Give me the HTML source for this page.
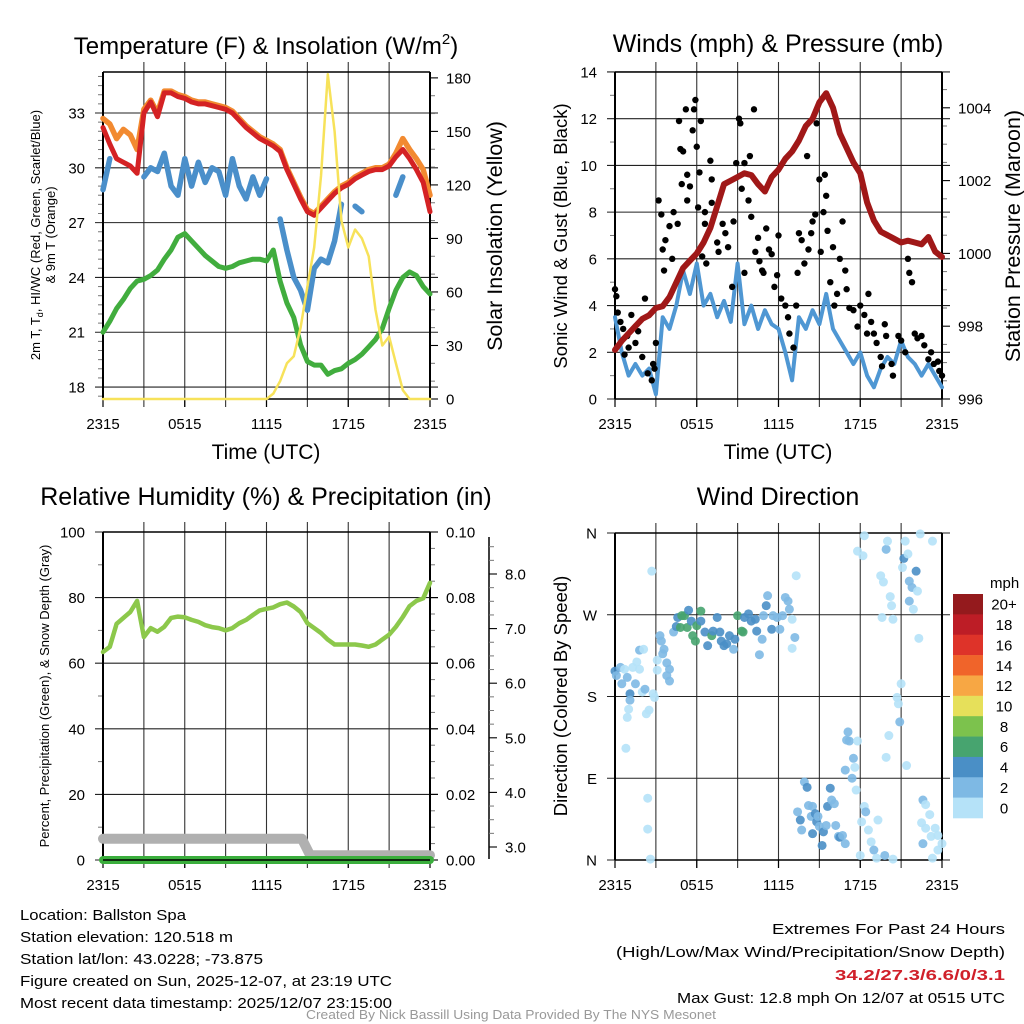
<!DOCTYPE html>
<html><head><meta charset="utf-8"><title>NYS Mesonet Meteogram - Ballston Spa</title>
<style>
html,body{margin:0;padding:0;background:#fff;}
svg{display:block;font-family:"Liberation Sans",Arial,sans-serif;}
</style></head>
<body>
<svg id="chart" width="1024" height="1024" viewBox="0 0 1024 1024" xmlns="http://www.w3.org/2000/svg">
<rect x="0" y="0" width="1024" height="1024" fill="#fff"/>
<!-- titles -->
<text x="266" y="54" font-size="24" text-anchor="middle">Temperature (F) &amp; Insolation (W/m<tspan font-size="15" dy="-10">2</tspan><tspan dy="10">)</tspan></text>
<text x="778" y="52" font-size="25" text-anchor="middle">Winds (mph) &amp; Pressure (mb)</text>
<text x="266" y="505" font-size="25" text-anchor="middle">Relative Humidity (%) &amp; Precipitation (in)</text>
<text x="778" y="505" font-size="25" text-anchor="middle">Wind Direction</text>
<!-- axis titles -->
<text transform="translate(40,235) rotate(-90)" font-size="13" text-anchor="middle">2m T, T<tspan font-size="9" dy="3">d</tspan><tspan dy="-3">, HI/WC (Red, Green, Scarlet/Blue)</tspan></text>
<text transform="translate(55,235) rotate(-90)" font-size="13" text-anchor="middle">&amp; 9m T (Orange)</text>
<text transform="translate(502,236) rotate(-90)" font-size="21.5" text-anchor="middle">Solar Insolation (Yellow)</text>
<text x="266" y="459" font-size="21" text-anchor="middle">Time (UTC)</text>
<text transform="translate(567,236) rotate(-90)" font-size="18.5" text-anchor="middle">Sonic Wind &amp; Gust (Blue, Black)</text>
<text transform="translate(1020,236) rotate(-90)" font-size="21.5" text-anchor="middle">Station Pressure (Maroon)</text>
<text x="778" y="459" font-size="21" text-anchor="middle">Time (UTC)</text>
<text transform="translate(49,696) rotate(-90)" font-size="13" text-anchor="middle">Percent, Precipitation (Green), &amp; Snow Depth (Gray)</text>
<text transform="translate(567,696) rotate(-90)" font-size="18.5" text-anchor="middle">Direction (Colored By Speed)</text>
<!-- footer -->
<g font-size="15">
<text x="20" y="920" textLength="166" lengthAdjust="spacingAndGlyphs">Location: Ballston Spa</text>
<text x="20" y="942" textLength="213" lengthAdjust="spacingAndGlyphs">Station elevation: 120.518 m</text>
<text x="20" y="964" textLength="243" lengthAdjust="spacingAndGlyphs">Station lat/lon: 43.0228; -73.875</text>
<text x="20" y="986" textLength="372" lengthAdjust="spacingAndGlyphs">Figure created on Sun, 2025-12-07, at 23:19 UTC</text>
<text x="20" y="1008" textLength="372" lengthAdjust="spacingAndGlyphs">Most recent data timestamp: 2025/12/07 23:15:00</text>
</g>
<g font-size="15" text-anchor="end">
<text x="1005" y="934" textLength="233" lengthAdjust="spacingAndGlyphs">Extremes For Past 24 Hours</text>
<text x="1005" y="957" textLength="389" lengthAdjust="spacingAndGlyphs">(High/Low/Max Wind/Precipitation/Snow Depth)</text>
<text x="1005" y="980" fill="#d0202a" font-weight="bold" textLength="170" lengthAdjust="spacingAndGlyphs">34.2/27.3/6.6/0/3.1</text>
<text x="1005" y="1003" textLength="328" lengthAdjust="spacingAndGlyphs">Max Gust: 12.8 mph On 12/07 at 0515 UTC</text>
</g>
<text x="511" y="1019" font-size="13" fill="#999" text-anchor="middle" textLength="410" lengthAdjust="spacingAndGlyphs">Created By Nick Bassill Using Data Provided By The NYS Mesonet</text>
</svg>
<script>
// ---------- data ----------
const hours = Array.from({length:49},(_, i)=>i*0.5);
const timeTickLabels = ["2315","0515","1115","1715","2315"];
const temp2m = [32.2,31.3,30.5,30.3,30.1,29.7,33.0,33.6,32.8,34.1,34.1,33.9,33.8,33.6,33.5,33.5,33.4,33.3,33.2,33.0,32.6,32.2,31.9,31.6,31.4,31.2,30.9,29.9,29.1,28.3,27.6,27.4,27.8,28.2,28.6,28.9,29.1,29.4,29.6,29.8,29.9,29.9,30.1,30.6,31.0,30.5,29.9,29.2,27.6];
const temp9m = [32.7,32.4,31.6,32.1,31.8,31.0,33.2,33.7,33.0,34.2,34.2,34.0,33.9,33.7,33.6,33.6,33.5,33.4,33.3,33.1,32.7,32.3,32.0,31.7,31.5,31.3,31.0,30.0,29.2,28.4,27.7,27.5,27.9,28.3,28.7,29.0,29.2,29.5,29.7,29.9,30.0,30.0,30.2,30.8,31.6,31.0,30.5,29.9,28.5];
const windChill = [28.8,30.5,null,null,null,null,29.5,30.0,29.8,30.8,29.0,28.5,30.5,29.0,30.3,29.2,30.0,29.8,28.5,30.5,29.0,28.3,29.5,28.5,29.4,null,27.2,25.5,24.0,23.3,22.2,24.5,25.0,24.8,26.0,28.0,null,27.9,27.6,null,null,null,null,28.5,29.5,null,null,null,null];
const dewpoint = [21.0,21.6,22.3,22.8,23.4,23.8,23.9,24.1,24.4,25.0,25.5,26.2,26.4,26.0,25.6,25.2,24.9,24.6,24.5,24.6,24.8,24.9,25.0,25.0,24.9,25.5,23.8,22.6,21.8,20.3,19.4,19.2,19.2,18.7,18.9,19.0,19.3,19.5,19.8,20.2,20.6,21.2,22.3,23.3,24.0,24.3,24.1,23.5,23.1];
const solar = [0,0,0,0,0,0,0,0,0,0,0,0,0,0,0,0,0,0,0,0,0,0,0,0,0,3,10,20,24,40,63,85,125,182,150,100,85,95,90,80,50,30,35,20,5,0,0,0,0];
const tempTicks = [18,21,24,27,30,33];
const solarTicks = [0,30,60,90,120,150,180];

const windSpeed = [3.5,2.0,1.0,1.5,1.0,1.3,0.2,3.5,3.0,4.0,5.5,4.5,5.8,4.0,4.5,3.5,4.2,3.3,5.8,3.2,4.0,3.0,3.8,3.2,3.0,2.0,0.8,3.5,3.0,3.8,3.2,4.5,3.0,2.5,2.0,1.5,2.0,1.0,0.5,1.3,1.8,1.5,2.5,1.8,1.5,1.0,1.5,1.0,0.5];
const pressure = [997.35,997.6,997.8,998.0,998.2,998.3,998.5,998.55,998.8,999.2,999.6,999.8,1000.0,1000.3,1000.7,1001.3,1001.9,1002.0,1002.1,1002.2,1002.15,1001.9,1001.7,1002.1,1002.3,1002.6,1002.8,1003.1,1003.5,1003.7,1004.15,1004.4,1004.0,1003.3,1002.9,1002.5,1002.2,1001.4,1000.9,1000.6,1000.5,1000.4,1000.3,1000.35,1000.3,1000.25,1000.45,1000.05,999.9];
const gustTimes = [0,0.1,0.2,0.4,0.6,0.9,0.7,1.0,1.2,1.5,1.7,2.0,2.2,2.4,2.7,2.8,2.9,3.0,3.2,3.4,3.5,3.7,3.6,4.0,4.3,4.2,4.6,4.7,4.8,4.9,5.0,5.2,5.3,5.3,5.5,5.7,5.8,5.9,6.0,6.2,6.1,6.3,6.4,6.6,6.7,7.0,7.1,7.1,6.6,7.5,7.6,7.9,8.1,8.3,8.6,8.7,8.9,9.1,9.2,9.3,9.5,9.5,9.8,9.9,10.0,10.2,10.3,10.5,10.6,10.8,10.9,11.1,11.3,11.5,11.7,11.9,12.0,12.2,12.5,12.7,12.8,13.1,13.3,13.4,13.5,13.7,13.9,14.1,14.2,14.4,14.5,14.7,14.8,15.0,15.1,15.3,15.4,15.5,15.6,15.8,16.0,16.1,16.3,16.5,16.7,16.9,17.0,17.2,17.5,17.8,18.0,18.3,18.5,18.6,18.8,19.0,19.2,19.5,19.6,19.8,19.9,20.3,20.4,20.8,21.0,21.3,21.5,21.6,21.8,22.0,22.2,22.5,22.7,23.0,23.2,23.4,23.7,23.8,24.0];
const gustValues = [4.7,4.4,3.7,3.3,3.0,2.7,1.9,2.2,3.6,2.4,2.9,1.8,4.3,1.1,0.8,1.5,1.3,2.4,8.5,7.9,6.4,6.8,5.5,7.4,8.0,6.0,7.5,11.9,10.7,9.2,10.6,12.4,9.6,8.5,9.1,11.5,12.4,12.8,10.8,9.7,8.2,11.9,6.1,7.5,5.8,10.2,9.4,8.4,8.0,6.7,6.3,7.5,7.1,6.5,4.8,7.6,10.1,12.0,11.8,9.0,10.1,5.4,8.5,10.4,7.8,12.4,6.3,6.9,5.9,5.5,5.4,7.3,6.4,6.2,4.8,5.3,7.0,4.3,4.0,3.5,2.8,2.2,4.0,5.4,7.1,6.8,5.8,10.4,6.4,7.1,7.6,7.9,11.8,9.4,6.3,8.0,9.6,8.7,7.2,5.0,6.5,4.0,4.5,6.0,7.6,5.5,4.7,3.9,3.8,3.1,4.0,3.6,2.8,4.5,3.3,2.8,2.4,1.8,1.4,3.2,2.7,1.5,1.0,2.7,2.5,2.0,6.0,5.4,5.0,2.8,2.6,2.7,2.3,1.7,2.0,1.5,1.6,1.2,1.0];
const windTicks = [0,2,4,6,8,10,12,14];
const pressureTicks = [996,998,1000,1002,1004];

const humidity = [63.4,65,72,73.8,75.6,79,68,70.7,69.6,71.1,73.8,74.2,74,73.2,72.6,71.6,71,70.7,70,70.7,72.2,73.2,74.7,76.1,76.6,77,78,78.5,77.3,75.6,72.2,70.7,69.2,67.2,65.7,65.7,65.7,65.7,65.4,65,65.7,67.2,68.7,71.1,74.1,77.4,79,79.8,84.5];
const snowTimes = [0,14.6,15.2,24];
const snowDepth = [3.15,3.15,2.85,2.85];
const precipTimes = [0,24];
const precip = [0,0];
const humidityTicks = [0,20,40,60,80,100];
const precipTicks = ["0.00","0.02","0.04","0.06","0.08","0.10"];
const snowTicks = ["3.0","4.0","5.0","6.0","7.0","8.0"];

const dirTimes = [0,0.1,0.4,0.5,0.7,0.9,1.1,1.1,1.0,0.9,0.8,1.3,1.5,1.6,1.8,1.8,2.1,2.0,2.2,2.3,2.5,2.7,2.8,2.9,2.4,2.4,2.6,3.1,3.1,3.3,3.4,3.6,3.5,3.8,4.0,3.8,4.0,4.3,4.5,4.6,4.9,5.1,5.4,5.3,4.8,5.6,5.7,5.9,6.0,6.3,6.3,6.6,6.8,7.1,7.2,7.5,7.7,7.8,8.0,8.2,8.4,8.7,8.8,9.0,9.3,9.4,9.5,9.8,10.0,10.3,10.4,10.6,10.8,10.9,11.1,11.2,11.5,11.6,11.9,12.1,12.3,12.5,12.7,12.8,13.0,13.2,13.3,13.0,
13.4,13.6,13.7,13.9,14.1,14.2,14.4,14.5,14.5,14.7,14.8,14.9,15.0,15.2,15.3,15.5,15.6,15.8,15.9,16.1,16.2,16.4,16.5,16.7,16.9,16.9,17.0,17.1,17.2,17.5,17.6,17.4,17.7,17.8,18.0,18.1,18.3,18.4,18.6,18.8,19.0,19.2,19.3,19.8,19.9,20.1,20.4,20.7,20.8,20.9,21.0,21.4,
17.8,18.2,18.3,19.5,19.7,19.9,20.0,20.2,20.3,19.6,20.4,21.1,21.2,21.3,21.5,21.6,21.8,21.6,21.9,22.1,22.2,22.3,22.4,23.3,
22.6,22.8,23.1,22.5,22.8,23.2,23.5,23.7,24.0,23.7,23.3,22.6];
const dirDegrees = [208,203,212,194,210,201,183,176,166,157,123,212,194,218,210,231,232,185,188,161,165,318,183,179,68,34,1,209,220,247,241,232,227,217,210,203,197,251,257,267,269,269,275,256,256,263,247,241,258,274,263,251,236,247,252,267,251,241,236,238,247,232,243,269,252,251,267,271,263,265,252,226,243,269,280,291,254,269,267,254,269,289,285,276,265,245,313,233,
53,44,33,86,80,60,48,29,59,51,42,48,37,16,31,38,59,79,66,62,38,26,25,27,18,99,132,141,131,112,102,90,77,131,5,42,59,53,33,20,11,2,44,5,113,137,1,179,172,152,194,104,
340,335,357,313,306,342,351,290,280,267,265,322,332,351,337,307,300,285,276,318,296,244,359,351,
66,61,50,41,35,26,35,27,18,11,2,18];
const dirSpeeds = [4,3,3,2,1,2,4,3,1,1,1,1,3,1,1,2,1,1,3,1,1,1,1,1,1,1,1,1,1,3,3,3,2,3,3,2,2,3,4,4,6,6,4,6,6,5,6,6,6,6,4,4,4,6,4,4,4,4,4,4,4,3,4,6,6,6,4,4,4,4,4,3,3,2,4,3,4,2,2,2,2,2,2,2,1,3,1,1,
3,4,2,3,4,3,3,4,3,4,4,3,3,4,4,3,4,4,3,3,3,2,4,2,2,2,3,3,3,2,1,2,1,1,1,1,1,2,1,1,2,1,1,3,1,1,1,1,1,3,1,1,
1,1,1,1,1,3,1,1,1,1,1,1,4,1,1,3,3,3,1,4,1,1,1,1,
3,1,1,1,1,1,1,1,1,1,1,2];
const dirTickLabels = ["N","E","S","W","N"];
const speedBinLabels = ["20+","18","16","14","12","10","8","6","4","2","0"];
const speedBinColors = ["#941a1d","#bd1d26","#de3329","#f0642a","#f7a744","#e6e05a","#7cc24d","#47a46f","#4a8fc6","#7eb9e4","#b5e2f8"];

// ---------- helpers ----------
const NS="http://www.w3.org/2000/svg";
const svg=document.getElementById('chart');
function el(tag,attrs,parent){const e=document.createElementNS(NS,tag);for(const k in attrs)e.setAttribute(k,attrs[k]);(parent||svg).appendChild(e);return e;}
function linePath(xs,ys,xf,yf){let d='',pen=false;for(let i=0;i<xs.length;i++){if(ys[i]===null||ys[i]===undefined){pen=false;continue;}d+=(pen?'L':'M')+xf(xs[i]).toFixed(1)+' '+yf(ys[i]).toFixed(1);pen=true;}return d;}

function frame(name,x0,x1,y0,y1){
  const g=el('g',{});
  
  
  const xf=h=>x0+h/24*(x1-x0);
  for(let h=3;h<24;h+=3){
    const l=el('line',{x1:xf(h),x2:xf(h),y1:y0-10,y2:y1+8,stroke:'#333','stroke-width':1.1},g);
    
    
  }
  for(let i=0;i<=4;i++){
    const t=el('text',{x:xf(i*6),y:y1+30,'font-size':15,'text-anchor':'middle'},g);
    
    
    t.textContent=timeTickLabels[i];
    const tk=el('line',{x1:xf(i*6),x2:xf(i*6),y1:y1,y2:y1+8,stroke:'#000','stroke-width':1.2},g);
    
    
  }
  return {g,xf};
}
function hGrid(g,name,ticks,labels,yf,x0,x1,side,lx){
  ticks.forEach((v,i)=>{
    const y=yf(v);
    if(side==='left'){
      const l=el('line',{x1:x0-8,x2:x1+8,y1:y,y2:y,stroke:'#222','stroke-width':1.1},g);
      
      
    } else {
      const l=el('line',{x1:x1,x2:x1+8,y1:y,y2:y,stroke:'#000','stroke-width':1.1},g);
      
      
    }
    const t=el('text',{x:lx,y:y+5.5,'font-size':15,'text-anchor':side==='left'?'end':'start'},g);
    
    
    t.textContent=labels[i];
  });
}
function minor(g,name,vals,yf,x,dir){
  vals.forEach(v=>{const l=el('line',{x1:x,x2:x+dir*5,y1:yf(v),y2:yf(v),stroke:'#777','stroke-width':1},g);
    
    });
}
function border(g,name,x0,x1,y0,y1){
  const l1=el('line',{x1:x0,x2:x0,y1:y0,y2:y1,stroke:'#000','stroke-width':2},g);
  
  
  const l2=el('line',{x1:x1,x2:x1,y1:y0,y2:y1,stroke:'#000','stroke-width':2},g);
  
  
  const l3=el('line',{x1:x0,x2:x1,y1:y1,y2:y1,stroke:'#000','stroke-width':1.5},g);
  
  
  const l4=el('line',{x1:x0,x2:x1,y1:y0,y2:y0,stroke:'#000','stroke-width':1.5},g);
  
  
}
function series(name,d,color,w,opacity){
  const p=el('path',{d:d,fill:'none',stroke:color,'stroke-width':w,'stroke-linejoin':'round','stroke-linecap':'round','stroke-opacity':opacity||1});
  
  
  return p;
}
function range(a,b,s){const r=[];for(let v=a;v<=b+1e-9;v+=s)r.push(+v.toFixed(4));return r;}

// ---------- panel 1: temperature ----------
(function(){
  const x0=103,x1=430,y0=72,y1=399;
  const {g,xf}=frame('temperature',x0,x1,y0,y1);
  const yT=t=>113+(33-t)*18.27;
  const yS=s=>399-s*1.784;
  hGrid(g,'temperature-y',tempTicks,tempTicks.map(String),yT,x0,x1,'left',85);
  minor(g,'temperature-y',range(17.5,35,0.5).filter(v=>v%3!==0&&yT(v)<=y1&&yT(v)>=y0),yT,x0,-1);
  hGrid(g,'insolation-y',solarTicks,solarTicks.map(String),yS,x0,x1,'right',446);
  minor(g,'insolation-y',range(0,180,10).filter(v=>v%30!==0),yS,x1,1);
  series('dewpoint-line',linePath(hours,dewpoint,xf,yT),'#41ad3e',5);
  series('wind-chill-line',linePath(hours,windChill,xf,yT),'#4a8fca',5.5);
  series('temperature-9m-line',linePath(hours,temp9m,xf,yT),'#f28a30',5.5);
  series('temperature-2m-line',linePath(hours,temp2m,xf,yT),'#d42224',5);
  series('solar-insolation-line',linePath(hours,solar,xf,yS),'#f7e25a',2.5);
  border(g,'temperature',x0,x1,y0,y1);
})();

// ---------- panel 2: winds ----------
(function(){
  const x0=615,x1=942,y0=72,y1=399;
  const {g,xf}=frame('wind',x0,x1,y0,y1);
  const yW=v=>399-v*23.36;
  const yP=p=>399-(p-996)*36.4;
  hGrid(g,'wind-y',windTicks,windTicks.map(String),yW,x0,x1,'left',597);
  minor(g,'wind-y',range(1,13,2),yW,x0,-1);
  hGrid(g,'pressure-y',pressureTicks,pressureTicks.map(String),yP,x0,x1,'right',958);
  minor(g,'pressure-y',range(996.5,1004.5,0.5).filter(v=>v%2!==0),yP,x1,1);
  series('sonic-wind-line',linePath(hours,windSpeed,xf,yW),'#4f97d3',4);
  gustTimes.forEach((h,i)=>{
    const c=el('circle',{cx:xf(h),cy:yW(gustValues[i]),r:3.2,fill:'#000'});
    
    
  });
  series('pressure-line',linePath(hours,pressure,xf,yP),'#a01818',6);
  border(g,'wind',x0,x1,y0,y1);
})();

// ---------- panel 3: humidity ----------
(function(){
  const x0=103,x1=430,y0=532,y1=860;
  const {g,xf}=frame('humidity',x0,x1,y0,y1);
  const yR=v=>860-v*3.28;
  const ySn=v=>847-(v-3)*54.6;
  hGrid(g,'humidity-y',humidityTicks,humidityTicks.map(String),yR,x0,x1,'left',85);
  minor(g,'humidity-y',range(10,90,20),yR,x0,-1);
  hGrid(g,'precip-y',humidityTicks,precipTicks,yR,x0,x1,'right',446);
  minor(g,'precip-y',range(5,95,5).filter(v=>v%20!==0),yR,x1,1);
  const ax=el('line',{x1:489,x2:489,y1:537,y2:859,stroke:'#000','stroke-width':1.5},g);
  
  
  snowTicks.forEach(s=>{
    const v=parseFloat(s);
    const tk=el('line',{x1:489,x2:497,y1:ySn(v),y2:ySn(v),stroke:'#000','stroke-width':1.1},g);
    
    
    const t=el('text',{x:505,y:ySn(v)+5.5,'font-size':15},g);
    
    
    t.textContent=s;
  });
  minor(g,'snow-depth',range(3.25,8.75,0.25).filter(v=>v%1!==0&&ySn(v)>537),ySn,489,1);
  series('snow-depth-line',linePath(snowTimes,snowDepth,xf,ySn),'#b0b0b0',10);
  series('precipitation-line',linePath(precipTimes,precip.map(v=>v*1000),xf,yR),'#3aae3c',8);
  const zl=el('line',{x1:x0,x2:x1,y1:y1,y2:y1,stroke:'#000','stroke-width':1.5});
  
  
  series('relative-humidity-line',linePath(hours,humidity,xf,yR),'#8cc84b',4.5);
  border(g,'humidity',x0,x1,y0,y1);
})();

// ---------- panel 4: direction ----------
(function(){
  const x0=615,x1=942,y0=533,y1=860;
  const {g,xf}=frame('direction',x0,x1,y0,y1);
  const yD=d=>860-d*327/360;
  hGrid(g,'direction-y',[0,90,180,270,360],dirTickLabels,yD,x0,x1,'left',597);
  border(g,'direction',x0,x1,y0,y1);
  function colorFor(s){let idx=Math.min(10,Math.floor(s/2));return speedBinColors[10-idx];}
  dirTimes.forEach((h,i)=>{
    const c=el('circle',{cx:xf(h),cy:yD(dirDegrees[i]),r:4.5,fill:colorFor(dirSpeeds[i]),'fill-opacity':0.9});
    
    
  });
  // colorbar
  const cb=el('g',{});
  
  
  const t0=el('text',{x:990,y:588,'font-size':15},cb);
  
  
  t0.textContent='mph';
  const bh=224/11;
  speedBinLabels.forEach((lab,i)=>{
    const r=el('rect',{x:953,y:594+i*bh,width:30,height:bh+0.3,fill:speedBinColors[i]},cb);
    
    
    const t=el('text',{x:1004,y:594+i*bh+bh/2+5.5,'font-size':15,'text-anchor':'middle'},cb);
    
    
    t.textContent=lab;
  });
})();
</script>
</body></html>
